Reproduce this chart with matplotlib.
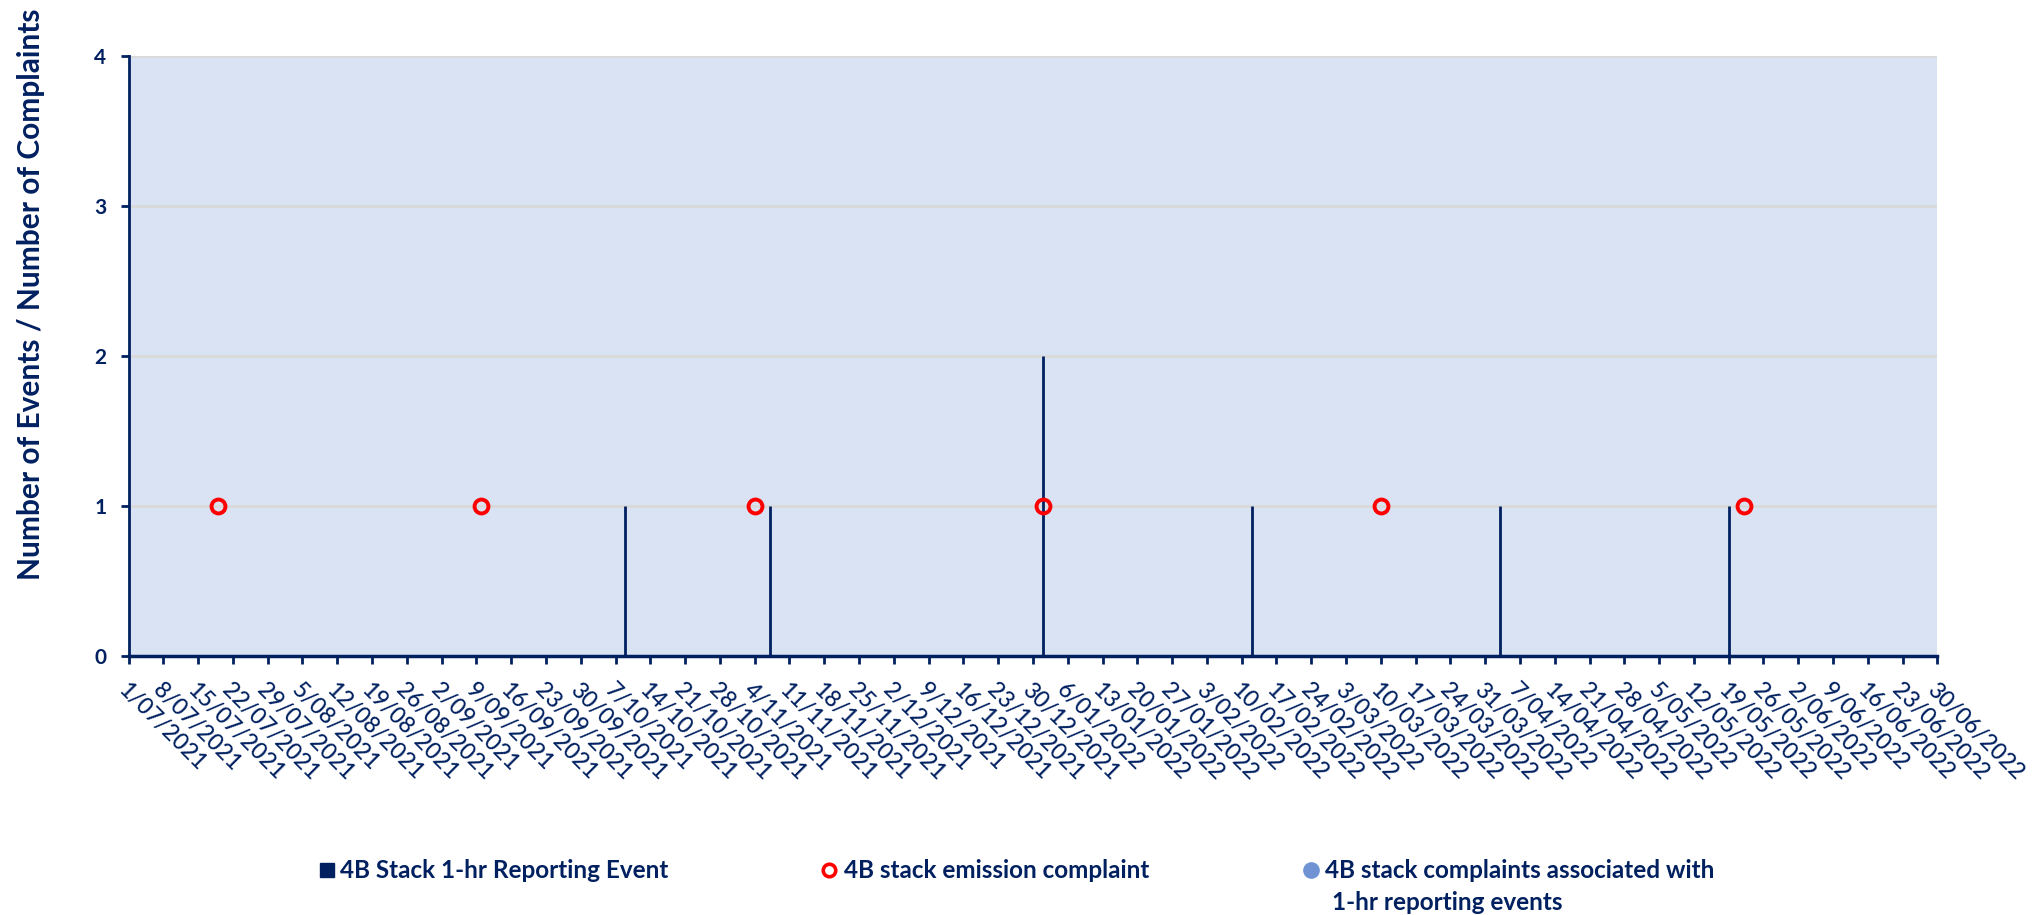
import numpy as np
import matplotlib
matplotlib.use('Agg')
import matplotlib.pyplot as plt
from matplotlib.lines import Line2D
from datetime import datetime, timedelta

plt.rcParams['font.family'] = ['Lato', 'DejaVu Sans']

navy = '#002060'

# 4B Stack 1-hr reporting events
event_dates = ['2021-10-09', '2021-11-07', '2022-01-01', '2022-02-12', '2022-04-03', '2022-05-19']
event_counts = [1, 1, 2, 1, 1, 1]

# 4B stack emission complaints
complaint_dates = ['2021-07-19', '2021-09-10', '2021-11-04', '2022-01-01', '2022-03-10', '2022-05-22']
complaint_counts = [1, 1, 1, 1, 1, 1]

# complaints associated with 1-hr reporting events (none in period)
assoc_dates = []
assoc_counts = []

start = datetime(2021, 7, 1)
end = datetime(2022, 6, 30)

to_dt = lambda lst: [datetime.strptime(d, '%Y-%m-%d') for d in lst]

fig = plt.figure(figsize=(20.34, 9.15), dpi=100)
ax = fig.add_axes([0.0632, 0.283, 0.8893, 0.6557])
ax.set_facecolor('#DAE3F3')

ax.vlines(to_dt(event_dates), 0, event_counts, color=navy, lw=2, zorder=3)
ax.plot(to_dt(complaint_dates), complaint_counts, 'o', mfc='none', mec='#FF0000',
        mew=2.8, ms=10, zorder=4)
ax.plot(to_dt(assoc_dates), assoc_counts, 'o', color='#6F93D3', ms=11, zorder=4)

ax.set_xlim(start, end)
ax.set_ylim(0, 4)
ax.set_yticks([0, 1, 2, 3, 4])
ax.set_yticklabels(['0', '1', '2', '3', '4'], fontweight='bold')
ticks = [start + timedelta(days=7 * k) for k in range(53)]
ax.set_xticks(ticks)
ax.set_xticklabels([f'{t.day}/{t.month:02d}/{t.year}' for t in ticks],
                   rotation=-45, ha='left', va='top', rotation_mode='anchor',
                   fontweight='medium')

ax.grid(axis='y', color='#D9D9D9', lw=2, zorder=0)
ax.set_axisbelow(True)
for s in ['top', 'right']:
    ax.spines[s].set_visible(False)
ax.spines['left'].set_color(navy)
ax.spines['left'].set_linewidth(2)
ax.spines['bottom'].set_color(navy)
ax.spines['bottom'].set_linewidth(2.5)
ax.tick_params(axis='x', colors=navy, length=6, width=2, labelsize=16.5, pad=11)
ax.tick_params(axis='y', colors=navy, length=6, width=2, labelsize=15, pad=10)

ax.set_ylabel('Number of Events / Number of Complaints', fontsize=21.5, color=navy,
              fontweight='bold')
ax.yaxis.set_label_coords(-0.046, 0.6025)

# legend, drawn by hand so the wrapped third entry lines up like the original
W, H = 2034, 915
fy = lambda py: 1 - py / H
fx = lambda px: px / W
leg_y1, leg_y2 = 870, 903
fig.add_artist(Line2D([fx(327)], [fy(leg_y1)], marker='s', ls='none', color=navy, ms=10,
                      transform=fig.transFigure))
fig.add_artist(Line2D([fx(829)], [fy(leg_y1)], marker='o', ls='none', mfc='none',
                      mec='#FF0000', mew=2.6, ms=9, transform=fig.transFigure))
fig.add_artist(Line2D([fx(1311)], [fy(leg_y1)], marker='o', ls='none', color='#6F93D3',
                      ms=11, transform=fig.transFigure))
tkw = dict(fontsize=17.5, fontweight='bold', color=navy, va='center', ha='left')
fig.text(fx(340), fy(leg_y1), '4B Stack 1-hr Reporting Event', **tkw)
fig.text(fx(844), fy(leg_y1), '4B stack emission complaint', **tkw)
fig.text(fx(1325), fy(leg_y1), '4B stack complaints associated with', **tkw)
fig.text(fx(1332), fy(leg_y2), '1-hr reporting events', **tkw)

fig.savefig('out.png', dpi=100)
